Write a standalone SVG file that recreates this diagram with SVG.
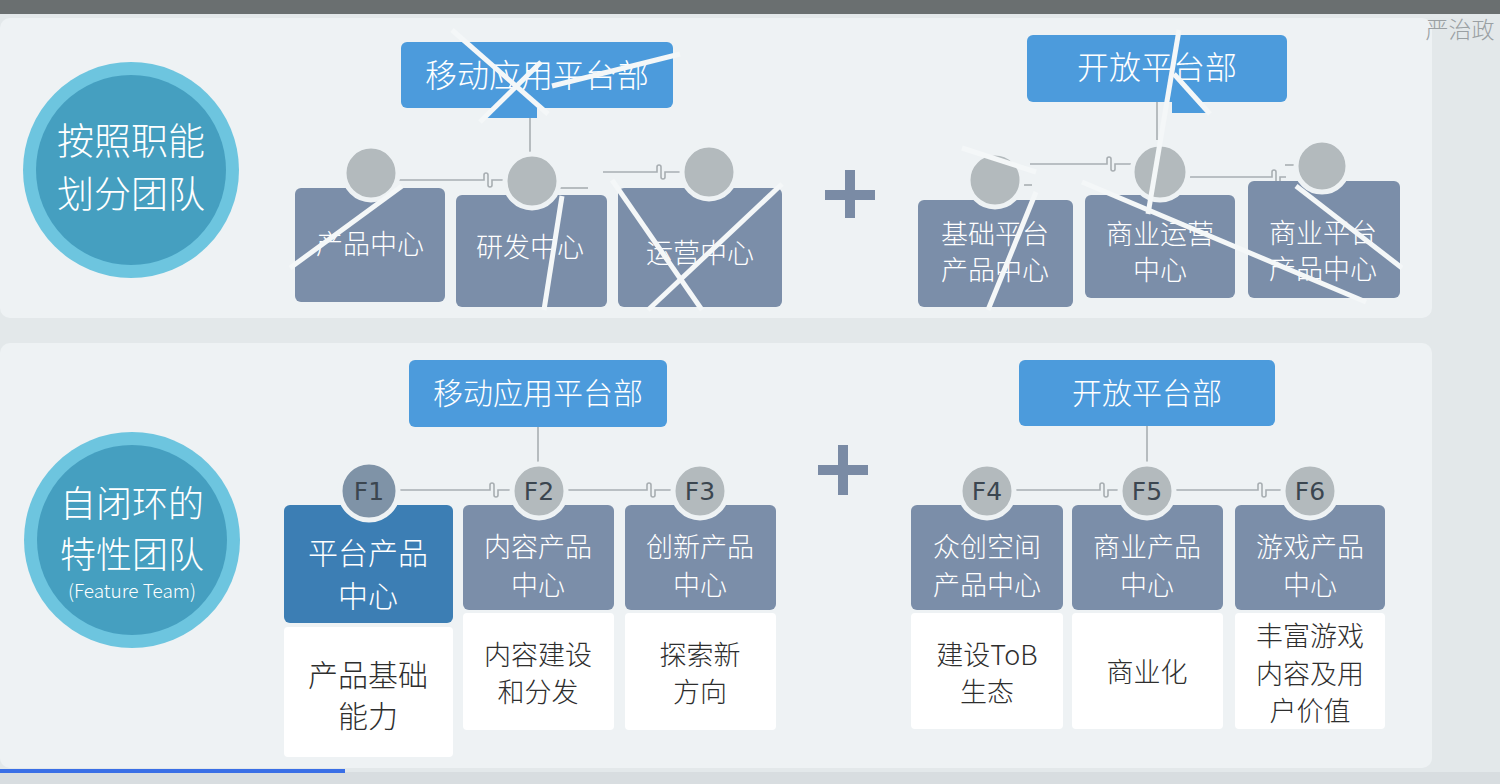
<svg xmlns="http://www.w3.org/2000/svg" width="1500" height="784" viewBox="0 0 1500 784">
<style>
.t{font-family:"Noto Sans CJK SC","Noto Sans",sans-serif;text-anchor:middle;font-weight:300}
.w{fill:#ffffff}
.d{fill:#2e2e2e}
.hd{fill:#4c9bdc}
.bx{fill:#7b8ea9}
.fb{fill:#3c7eb4}
.wb{fill:#ffffff}
.head{fill:#b3babd;stroke:#eef2f4;stroke-width:5}
.ln{fill:none;stroke:#a8aeb2;stroke-width:1.6}
.crack{fill:none;stroke:#f4f7f8;stroke-width:5;stroke-linecap:butt}
.fl{font-family:"DejaVu Sans","Noto Sans",sans-serif;font-size:25px;fill:#3b4650;text-anchor:middle}
</style>
<!-- background -->
<rect x="0" y="0" width="1500" height="784" fill="#e3e8ea"/>
<rect x="0" y="0" width="1500" height="14" fill="#6a6f70"/>
<rect x="0" y="18" width="1432" height="300" rx="10" fill="#eef2f4"/>
<rect x="0" y="343" width="1432" height="425" rx="10" fill="#eef2f4"/>
<rect x="0" y="772" width="1500" height="12" fill="#d8dde0"/>
<rect x="0" y="769" width="345" height="4" fill="#3a6fe6"/>
<text class="t" x="1460" y="38" font-size="23" fill="#9aa0a3">严治政</text>

<!-- left circles -->
<g id="circle-top">
<circle cx="131" cy="170" r="108" fill="#6dc5df"/>
<circle cx="131" cy="170" r="95" fill="#459fc0"/>
<text class="t w" x="131" y="155" font-size="37">按照职能</text>
<text class="t w" x="131" y="208" font-size="37">划分团队</text>
</g>
<g id="circle-bottom">
<circle cx="132" cy="540" r="108" fill="#6dc5df"/>
<circle cx="132" cy="540" r="95" fill="#459fc0"/>
<text class="t w" x="132" y="517" font-size="36">自闭环的</text>
<text class="t w" x="132" y="568" font-size="36">特性团队</text>
<text class="t w" x="132" y="598" font-size="19">(Feature Team)</text>
</g>

<!-- plus signs -->
<g id="plus-top" fill="#7a8ba5">
<rect x="825" y="190" width="50" height="10"/>
<rect x="845" y="170" width="10" height="48"/>
</g>
<g id="plus-bottom" fill="#7a8ba5">
<rect x="818" y="465" width="50" height="10"/>
<rect x="838" y="445" width="10" height="50"/>
</g>

<!-- connectors -->
<g id="connectors">
<path class="ln" d="M530 108 V155"/>
<path class="ln" d="M397 180 H482 h2 v-5 a2 2 0 0 1 4 0 v10 a2 2 0 0 0 4 0 v-5 h14"/>
<path class="ln" d="M558 188 H588"/>
<path class="ln" d="M603 172 H655 h2 v-5 a2 2 0 0 1 4 0 v10 a2 2 0 0 0 4 0 v-5 h18"/>
<path class="ln" d="M1157 102 V140"/>
<path class="ln" d="M1030 164 H1105 h2 v-5 a2 2 0 0 1 4 0 v10 a2 2 0 0 0 4 0 v-5 h16"/>
<path class="ln" d="M1020 185 H1032"/>
<path class="ln" d="M1188 177 H1270 h2 v-5 a2 2 0 0 1 4 0 v10 a2 2 0 0 0 4 0 v-5 h6"/>
<path class="ln" d="M1285 165 H1297"/>
<path class="ln" d="M538 427 V462"/>
<path class="ln" d="M397 490 H488 h2 v-5 a2 2 0 0 1 4 0 v10 a2 2 0 0 0 4 0 v-5 h13"/>
<path class="ln" d="M567 490 H645 h2 v-5 a2 2 0 0 1 4 0 v10 a2 2 0 0 0 4 0 v-5 h17"/>
<path class="ln" d="M1147 426 V462"/>
<path class="ln" d="M1015 490 H1098 h2 v-5 a2 2 0 0 1 4 0 v10 a2 2 0 0 0 4 0 v-5 h11"/>
<path class="ln" d="M1175 490 H1256 h2 v-5 a2 2 0 0 1 4 0 v10 a2 2 0 0 0 4 0 v-5 h16"/>
</g>

<!-- TOP: 移动应用平台部 group -->
<g id="top-mobile-dept">
<rect class="hd" x="401" y="42" width="272" height="66" rx="6"/>
<polygon class="hd" points="483,118 537,118 537,100 505,100"/>
<text class="t w" x="537" y="87" font-size="32">移动应用平台部</text>
</g>
<g id="top-product">
<rect class="bx" x="295" y="188" width="150" height="114" rx="6"/>
<circle class="head" cx="371" cy="173" r="27"/>
<text class="t w" x="370" y="254" font-size="27">产品中心</text>
</g>
<g id="top-rd">
<rect class="bx" x="456" y="195" width="151" height="112" rx="6"/>
<circle class="head" cx="532" cy="181" r="27"/>
<text class="t w" x="530" y="257" font-size="27">研发中心</text>
</g>
<g id="top-ops">
<rect class="bx" x="618" y="188" width="164" height="119" rx="6"/>
<circle class="head" cx="709" cy="172" r="27"/>
<text class="t w" x="700" y="263" font-size="27">运营中心</text>
</g>

<!-- TOP: 开放平台部 group -->
<g id="top-open-dept">
<rect class="hd" x="1027" y="35" width="260" height="67" rx="6"/>
<polygon class="hd" points="1172,113 1207,113 1185,90 1172,90"/>
<text class="t w" x="1157" y="79" font-size="32">开放平台部</text>
</g>
<g id="top-base">
<rect class="bx" x="918" y="200" width="155" height="107" rx="6"/>
<circle class="head" cx="995" cy="180" r="27"/>
<text class="t w" x="995" y="244" font-size="27">基础平台</text>
<text class="t w" x="995" y="280" font-size="27">产品中心</text>
</g>
<g id="top-bizops">
<rect class="bx" x="1085" y="195" width="150" height="103" rx="6"/>
<circle class="head" cx="1160" cy="172" r="28"/>
<text class="t w" x="1160" y="244" font-size="27">商业运营</text>
<text class="t w" x="1160" y="280" font-size="27">中心</text>
</g>
<g id="top-bizplat">
<rect class="bx" x="1248" y="181" width="152" height="117" rx="6"/>
<circle class="head" cx="1322" cy="166" r="26"/>
<text class="t w" x="1323" y="243" font-size="27">商业平台</text>
<text class="t w" x="1323" y="279" font-size="27">产品中心</text>
</g>

<!-- shatter cracks over the top section -->
<g id="cracks" class="crack">
<path d="M290 268 L402 186"/>
<path d="M452 30 L548 114"/>
<path d="M541 62 L480 122"/>
<path d="M552 86 L680 54"/>
<path d="M562 196 L544 310"/>
<path d="M612 180 L702 310"/>
<path d="M782 184 L648 310"/>
<path d="M1179 30 L1148 214"/>
<path d="M1174 74 L1210 114"/>
<path d="M962 148 L1036 172"/>
<path d="M1036 192 L988 310"/>
<path d="M1082 182 L1366 302"/>
<path d="M1296 186 L1402 268"/>
</g>

<!-- BOTTOM: 移动应用平台部 group -->
<g id="bottom-mobile-dept">
<rect class="hd" x="409" y="360" width="258" height="67" rx="6"/>
<text class="t w" x="538" y="404" font-size="30">移动应用平台部</text>
</g>
<g id="F1">
<rect class="fb" x="284" y="505" width="169" height="118" rx="6"/>
<rect class="wb" x="284" y="627" width="169" height="130" rx="4"/>
<circle class="head" cx="369" cy="491" r="29" style="fill:#7f93a7"/>
<text class="fl" x="369" y="500">F1</text>
<text class="t w" x="368" y="564" font-size="30">平台产品</text>
<text class="t w" x="368" y="607" font-size="30">中心</text>
<text class="t d" x="368" y="686" font-size="30">产品基础</text>
<text class="t d" x="368" y="727" font-size="30">能力</text>
</g>
<g id="F2">
<rect class="bx" x="463" y="505" width="151" height="105" rx="6"/>
<rect class="wb" x="463" y="613" width="151" height="117" rx="4"/>
<circle class="head" cx="539" cy="491" r="27"/>
<text class="fl" x="539" y="500">F2</text>
<text class="t w" x="538" y="557" font-size="27">内容产品</text>
<text class="t w" x="538" y="595" font-size="27">中心</text>
<text class="t d" x="538" y="665" font-size="27">内容建设</text>
<text class="t d" x="538" y="702" font-size="27">和分发</text>
</g>
<g id="F3">
<rect class="bx" x="625" y="505" width="151" height="105" rx="6"/>
<rect class="wb" x="625" y="613" width="151" height="117" rx="4"/>
<circle class="head" cx="700" cy="491" r="27"/>
<text class="fl" x="700" y="500">F3</text>
<text class="t w" x="700" y="557" font-size="27">创新产品</text>
<text class="t w" x="700" y="595" font-size="27">中心</text>
<text class="t d" x="700" y="665" font-size="27">探索新</text>
<text class="t d" x="700" y="702" font-size="27">方向</text>
</g>

<!-- BOTTOM: 开放平台部 group -->
<g id="bottom-open-dept">
<rect class="hd" x="1019" y="360" width="256" height="66" rx="6"/>
<text class="t w" x="1147" y="404" font-size="30">开放平台部</text>
</g>
<g id="F4">
<rect class="bx" x="911" y="505" width="152" height="105" rx="6"/>
<rect class="wb" x="911" y="613" width="152" height="116" rx="4"/>
<circle class="head" cx="987" cy="491" r="27"/>
<text class="fl" x="987" y="500">F4</text>
<text class="t w" x="987" y="557" font-size="27">众创空间</text>
<text class="t w" x="987" y="595" font-size="27">产品中心</text>
<text class="t d" x="987" y="665" font-size="27">建设ToB</text>
<text class="t d" x="987" y="702" font-size="27">生态</text>
</g>
<g id="F5">
<rect class="bx" x="1072" y="505" width="151" height="105" rx="6"/>
<rect class="wb" x="1072" y="613" width="151" height="116" rx="4"/>
<circle class="head" cx="1147" cy="491" r="27"/>
<text class="fl" x="1147" y="500">F5</text>
<text class="t w" x="1147" y="557" font-size="27">商业产品</text>
<text class="t w" x="1147" y="595" font-size="27">中心</text>
<text class="t d" x="1147" y="682" font-size="27">商业化</text>
</g>
<g id="F6">
<rect class="bx" x="1235" y="505" width="150" height="105" rx="6"/>
<rect class="wb" x="1235" y="613" width="150" height="116" rx="4"/>
<circle class="head" cx="1310" cy="491" r="27"/>
<text class="fl" x="1310" y="500">F6</text>
<text class="t w" x="1310" y="557" font-size="27">游戏产品</text>
<text class="t w" x="1310" y="595" font-size="27">中心</text>
<text class="t d" x="1310" y="646" font-size="27">丰富游戏</text>
<text class="t d" x="1310" y="684" font-size="27">内容及用</text>
<text class="t d" x="1310" y="721" font-size="27">户价值</text>
</g>
</svg>
